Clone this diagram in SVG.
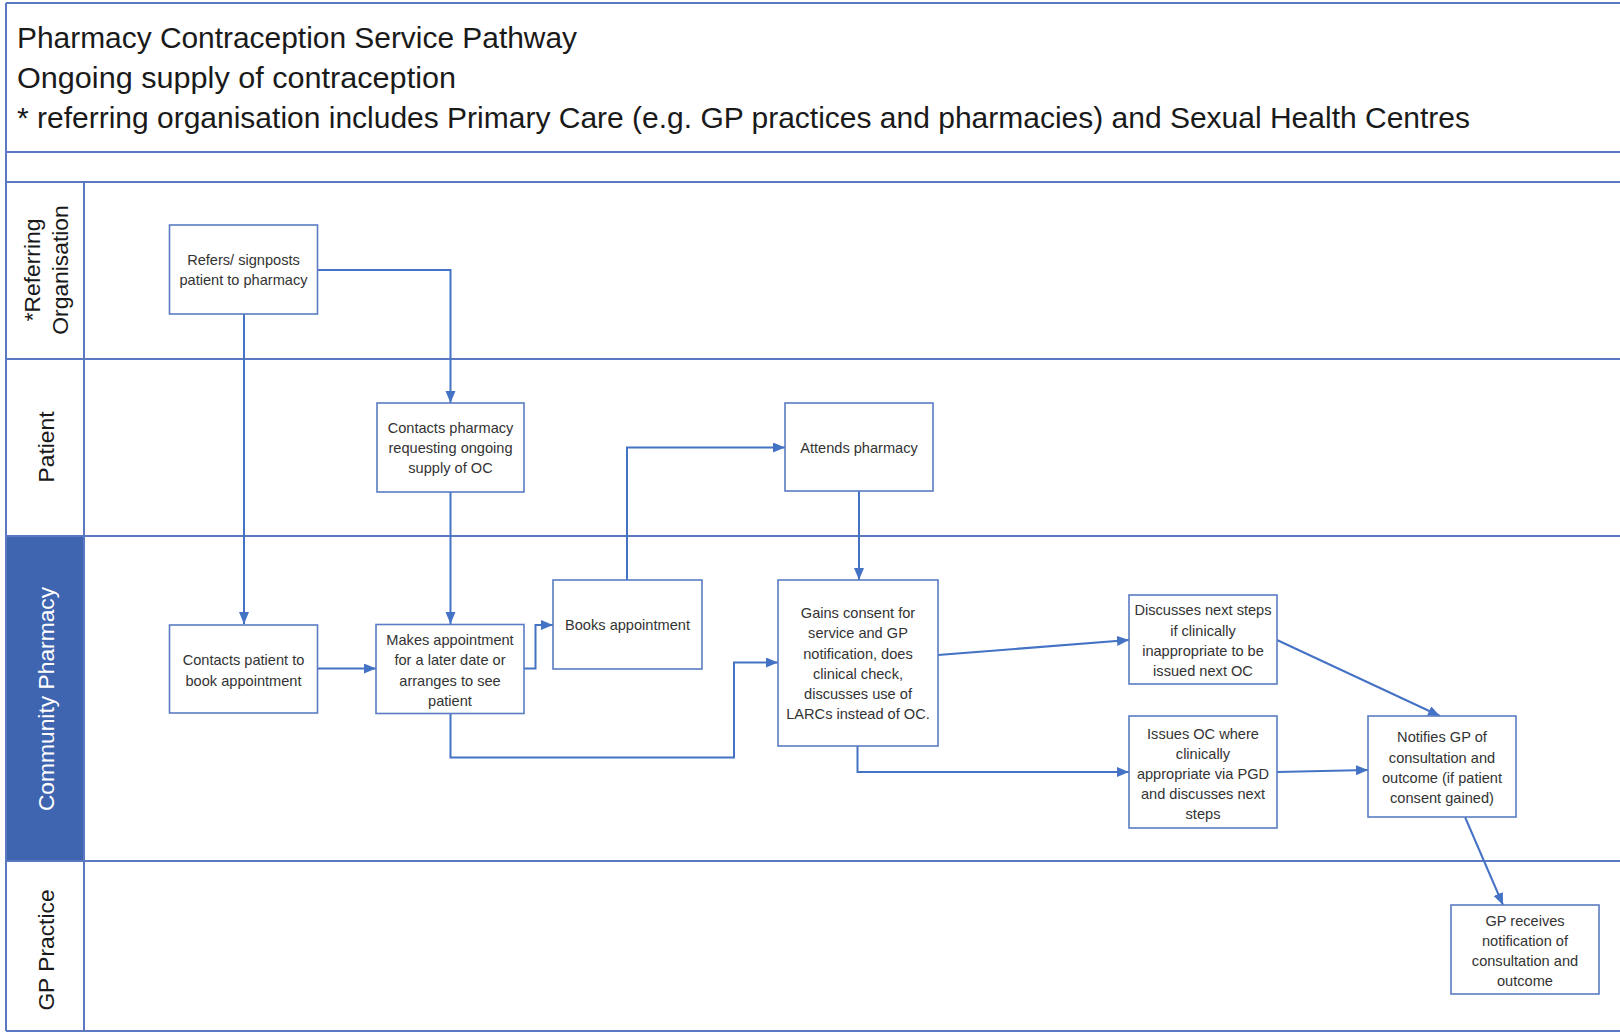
<svg xmlns="http://www.w3.org/2000/svg" width="1620" height="1033" viewBox="0 0 1620 1033">
<style>
.frame{stroke:#5a79c2;stroke-width:2;fill:none}
.box{fill:#ffffff;stroke:#5b7cc4;stroke-width:1.6}
.t{font-family:"Liberation Sans",Arial,sans-serif;font-size:14.6px;fill:#333333;text-anchor:middle}
.title{font-family:"Liberation Sans",Arial,sans-serif;font-size:29px;fill:#1a1a1a}
.lane{font-family:"Liberation Sans",Arial,sans-serif;font-size:22.8px;fill:#1a1a1a;text-anchor:middle}
.conn{stroke:#4472c4;stroke-width:2;fill:none}
</style>
<defs>
<marker id="arr" markerUnits="userSpaceOnUse" markerWidth="14" markerHeight="12" refX="12" refY="5" orient="auto">
<path d="M0,0 L12,5 L0,10 z" fill="#4472c4"/>
</marker>
</defs>
<rect x="0" y="0" width="1620" height="1033" fill="#ffffff"/>
<g id="frame">
<rect x="6" y="536" width="78" height="325" fill="#3f65b0"/>
<line class="frame" x1="6" y1="3" x2="1620" y2="3"/>
<line class="frame" x1="6" y1="3" x2="6" y2="1031"/>
<line class="frame" x1="6" y1="152" x2="1620" y2="152"/>
<line class="frame" x1="6" y1="182" x2="1620" y2="182"/>
<line class="frame" x1="6" y1="359" x2="1620" y2="359"/>
<line class="frame" x1="6" y1="536" x2="1620" y2="536"/>
<line class="frame" x1="6" y1="861" x2="1620" y2="861"/>
<line class="frame" x1="6" y1="1031" x2="1620" y2="1031"/>
<line class="frame" x1="84" y1="182" x2="84" y2="1031"/>
</g>
<g id="header">
<text class="title" x="17" y="47.5" textLength="560" lengthAdjust="spacingAndGlyphs">Pharmacy Contraception Service Pathway</text>
<text class="title" x="17" y="88" textLength="439" lengthAdjust="spacingAndGlyphs">Ongoing supply of contraception</text>
<text class="title" x="17" y="127.5" textLength="1453" lengthAdjust="spacingAndGlyphs">* referring organisation includes Primary Care (e.g. GP practices and pharmacies) and Sexual Health Centres</text>
</g>
<g id="lane-referring">
<text class="lane" transform="translate(32,270) rotate(-90)" y="8">*Referring</text>
<text class="lane" transform="translate(60,270) rotate(-90)" y="8">Organisation</text>
</g>
<g id="lane-patient">
<text class="lane" transform="translate(45.5,447) rotate(-90)" y="8">Patient</text>
</g>
<g id="lane-pharmacy">
<text class="lane" transform="translate(45.5,699) rotate(-90)" y="8" style="fill:#ffffff">Community Pharmacy</text>
</g>
<g id="lane-gp">
<text class="lane" transform="translate(45.5,950) rotate(-90)" y="8">GP Practice</text>
</g>
<g id="connectors">
<path class="conn" d="M244,314 V624" marker-end="url(#arr)"/>
<path class="conn" d="M317,270 H450.5 V403" marker-end="url(#arr)"/>
<path class="conn" d="M450.5,492 V624" marker-end="url(#arr)"/>
<path class="conn" d="M317,668.5 H376" marker-end="url(#arr)"/>
<path class="conn" d="M524,668.5 H535.5 V625 H553" marker-end="url(#arr)"/>
<path class="conn" d="M627,580 V447.5 H785" marker-end="url(#arr)"/>
<path class="conn" d="M859,491 V580" marker-end="url(#arr)"/>
<path class="conn" d="M450.5,713 V757.5 H734 V662.5 H778" marker-end="url(#arr)"/>
<path class="conn" d="M938,655 L1129,640" marker-end="url(#arr)"/>
<path class="conn" d="M857.5,746 V772 H1129" marker-end="url(#arr)"/>
<path class="conn" d="M1277,772 L1368,770" marker-end="url(#arr)"/>
<path class="conn" d="M1277,640 L1440,716" marker-end="url(#arr)"/>
<path class="conn" d="M1465,817 L1503,905" marker-end="url(#arr)"/>
</g>
<g id="n-refers">
<rect class="box" x="169.5" y="225" width="148" height="89"/>
<text class="t" x="243.5" y="264.5">Refers/ signposts</text>
<text class="t" x="243.5" y="285">patient to pharmacy</text>
</g>
<g id="n-contacts-pharmacy">
<rect class="box" x="377" y="403" width="147" height="89"/>
<text class="t" x="450.5" y="433">Contacts pharmacy</text>
<text class="t" x="450.5" y="453">requesting ongoing</text>
<text class="t" x="450.5" y="473">supply of OC</text>
</g>
<g id="n-attends">
<rect class="box" x="785" y="403" width="148" height="88"/>
<text class="t" x="859" y="452.5">Attends pharmacy</text>
</g>
<g id="n-contacts-patient">
<rect class="box" x="169.5" y="625" width="148" height="88"/>
<text class="t" x="243.5" y="665">Contacts patient to</text>
<text class="t" x="243.5" y="685.5">book appointment</text>
</g>
<g id="n-makes">
<rect class="box" x="376" y="624.5" width="148" height="89"/>
<text class="t" x="450" y="645">Makes appointment</text>
<text class="t" x="450" y="665">for a later date or</text>
<text class="t" x="450" y="685.5">arranges to see</text>
<text class="t" x="450" y="705.5">patient</text>
</g>
<g id="n-books">
<rect class="box" x="553" y="580" width="149" height="89"/>
<text class="t" x="627.5" y="630">Books appointment</text>
</g>
<g id="n-gains">
<rect class="box" x="778" y="580" width="160" height="166"/>
<text class="t" x="858" y="618">Gains consent for</text>
<text class="t" x="858" y="638">service and GP</text>
<text class="t" x="858" y="658.5">notification, does</text>
<text class="t" x="858" y="679">clinical check,</text>
<text class="t" x="858" y="699">discusses use of</text>
<text class="t" x="858" y="718.5">LARCs instead of OC.</text>
</g>
<g id="n-discusses">
<rect class="box" x="1129" y="595" width="148" height="89"/>
<text class="t" x="1203" y="615">Discusses next steps</text>
<text class="t" x="1203" y="635.5">if  clinically</text>
<text class="t" x="1203" y="655.5">inappropriate to be</text>
<text class="t" x="1203" y="676">issued next OC</text>
</g>
<g id="n-issues">
<rect class="box" x="1129" y="716" width="148" height="112"/>
<text class="t" x="1203" y="739">Issues OC where</text>
<text class="t" x="1203" y="758.5">clinically</text>
<text class="t" x="1203" y="779">appropriate via PGD</text>
<text class="t" x="1203" y="799">and discusses next</text>
<text class="t" x="1203" y="818.5">steps</text>
</g>
<g id="n-notifies">
<rect class="box" x="1368" y="716" width="148" height="101"/>
<text class="t" x="1442" y="742">Notifies GP of</text>
<text class="t" x="1442" y="762.5">consultation and</text>
<text class="t" x="1442" y="782.5">outcome (if patient</text>
<text class="t" x="1442" y="803">consent gained)</text>
</g>
<g id="n-gp-receives">
<rect class="box" x="1451" y="905" width="148" height="89"/>
<text class="t" x="1525" y="926">GP receives</text>
<text class="t" x="1525" y="945.5">notification of</text>
<text class="t" x="1525" y="965.5">consultation and</text>
<text class="t" x="1525" y="986">outcome</text>
</g>
</svg>
